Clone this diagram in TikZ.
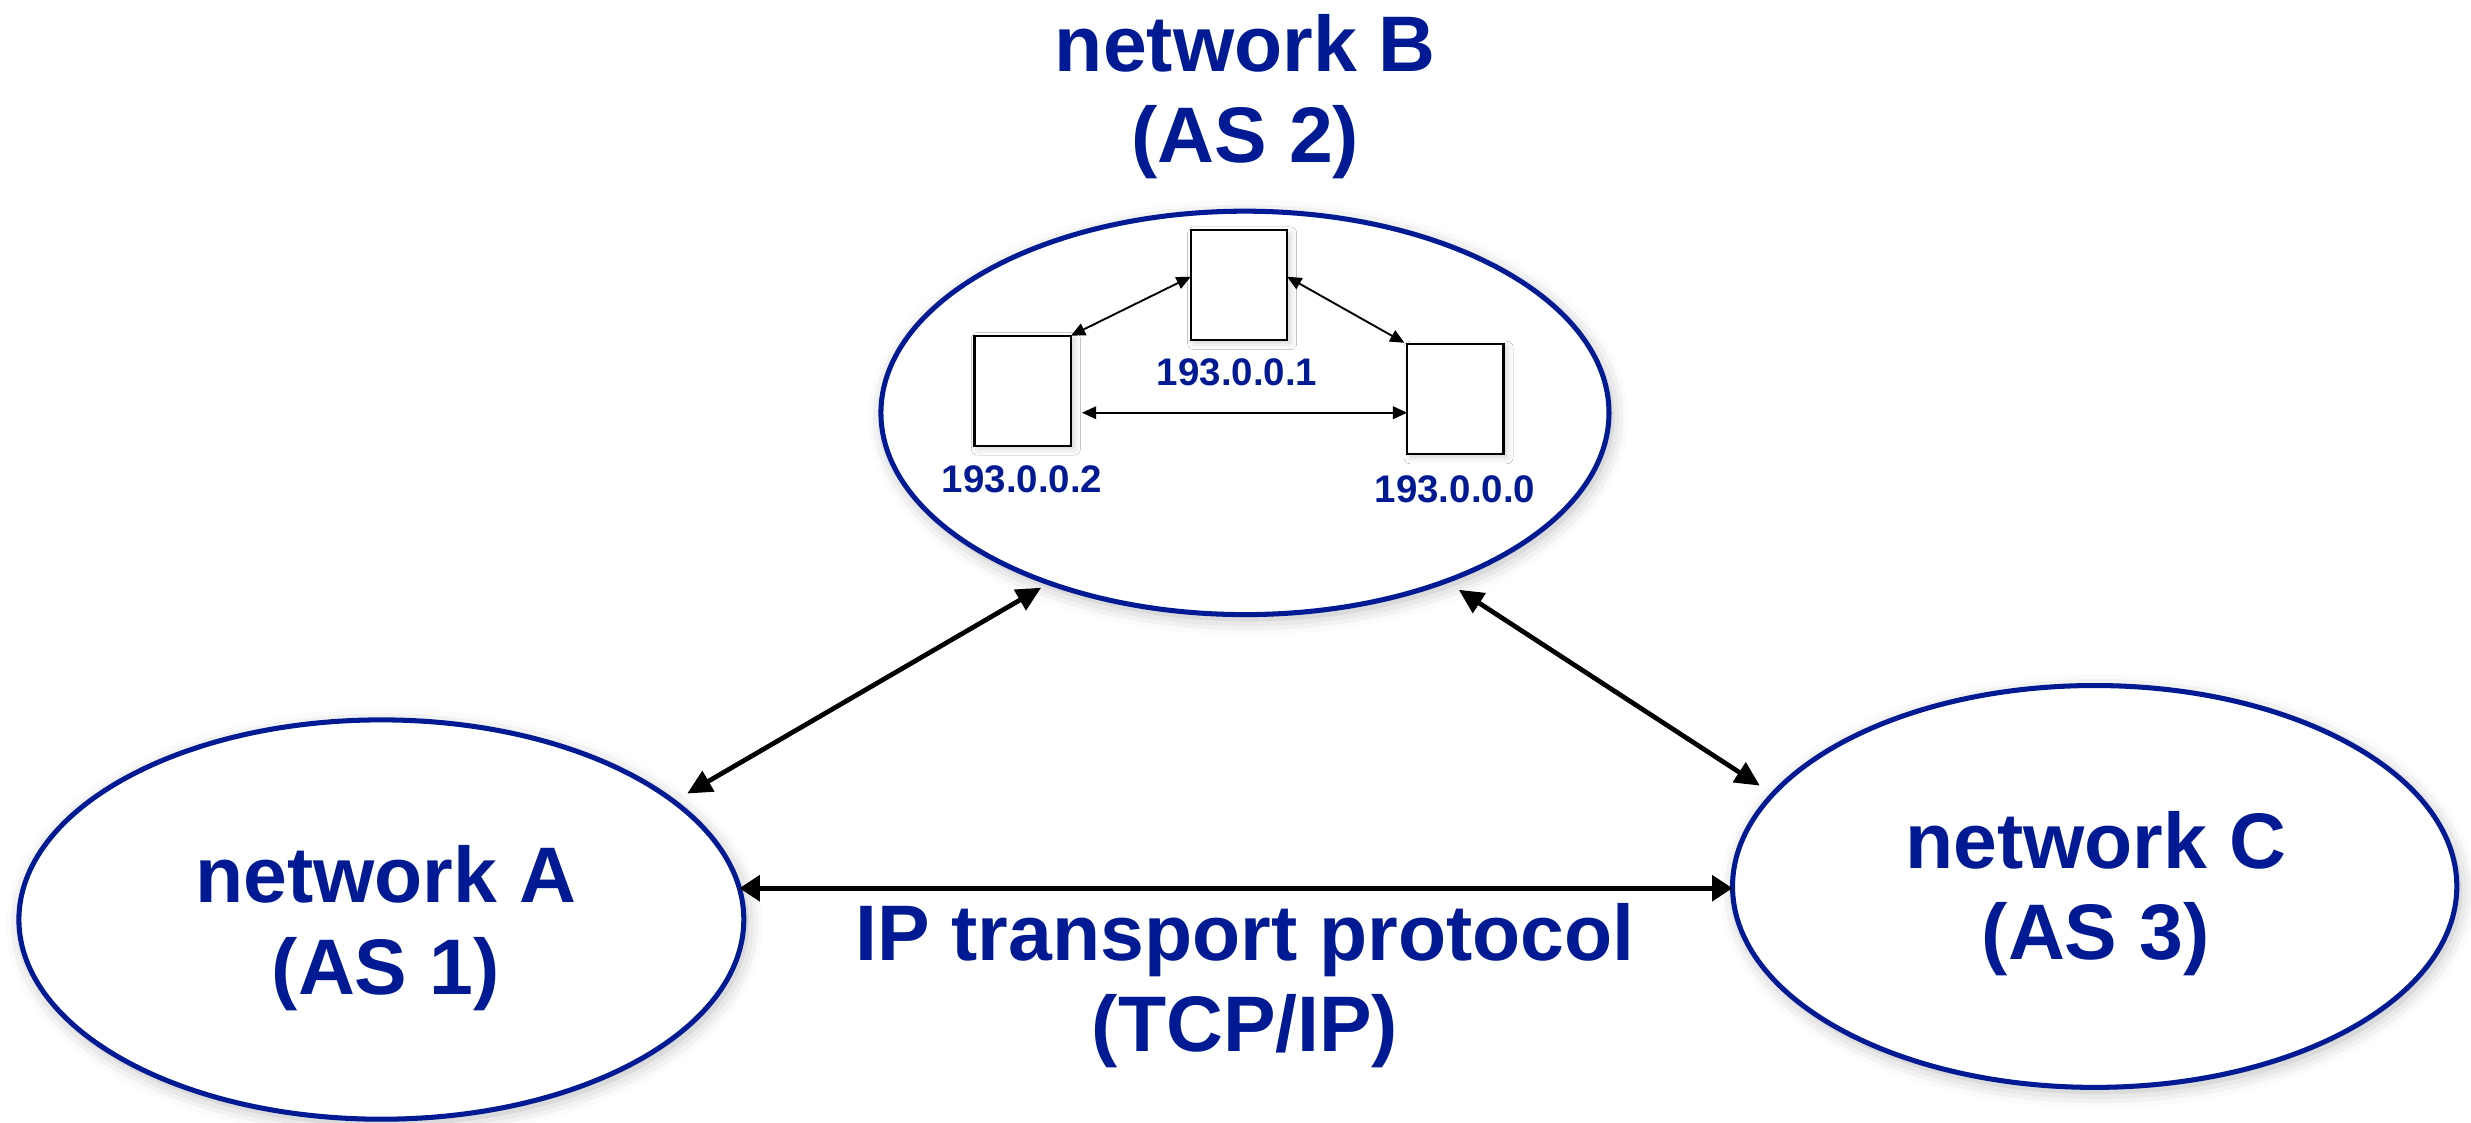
\documentclass[tikz,border=0pt]{standalone}
\usepackage{fontspec}
\setmainfont{Liberation Sans}
\usetikzlibrary{arrows.meta,shapes.geometric,shadows.blur,calc}
\definecolor{netblue}{RGB}{0,26,148}
\begin{document}
\begin{tikzpicture}[x=0.5pt,y=-0.5pt,
  softshadow/.style={blur shadow={shadow xshift=1pt, shadow yshift=-1.5pt, shadow blur radius=5pt, shadow opacity=28}},
  net/.style={ellipse, draw=netblue, line width=1.6pt, fill=white, inner sep=0pt, outer sep=0pt, softshadow},
  host/.style={rectangle, draw=black, line width=0.7pt, fill=white, minimum width=30.6pt, minimum height=34.9pt, inner sep=0pt, outer sep=0pt, blur shadow={shadow xshift=1pt, shadow yshift=-1pt, shadow blur radius=2pt, shadow opacity=18}},
  bigtext/.style={text=netblue, font=\fontsize{25}{29}\selectfont\bfseries, align=center, inner sep=0pt},
  iptext/.style={text=netblue, font=\fontsize{12.2}{14}\selectfont\bfseries, inner sep=0pt},
  link/.style={draw=black, line width=1.5pt, {Triangle[length=7.8pt,width=7.3pt]}-{Triangle[length=7.8pt,width=7.3pt]}},
  hlink/.style={draw=black, line width=1.7pt, {Triangle[length=6.5pt,width=8pt]}-{Triangle[length=6.5pt,width=8pt]}},
  smalllink/.style={draw=black, line width=0.6pt, {Triangle[length=4.5pt,width=4pt]}-{Triangle[length=4.5pt,width=4pt]}}
]
\useasboundingbox (0,0) rectangle (1568,712);

% networks
\node[net, minimum width=230pt, minimum height=126.7pt] (A) at (242,583.5) {};
\node[net, minimum width=231pt, minimum height=128pt] (B) at (790,262) {};
\node[net, minimum width=229.8pt, minimum height=127.5pt] (C) at (1329.2,562.5) {};

% hosts in network B
\node[host] (T) at (786.2,180.9) {};
\node[host] (L) at (649,247.9) {};
\node[host] (R) at (923.5,253.4) {};

% host labels
\node[iptext] (l1) at (785,236.2) {193.0.0.1};
\node[iptext] (l2) at (648.6,304) {193.0.0.2};
\node[iptext] (l0) at (923.3,310.2) {193.0.0.0};

% texts
\node[bigtext] (tB) at (790.3,61.3) {network B\\(AS 2)};
\node[bigtext] (tA) at (244.7,589) {network A\\(AS 1)};
\node[bigtext] (tC) at (1329.8,567.2) {network C\\(AS 3)};
\node[bigtext] (tP) at (790,625.5) {IP transport protocol\\(TCP/IP)};

% links inside B
\coordinate (tw) at ($(T.west)+(0,-5.3)$);
\coordinate (te) at ($(T.east)+(0,-5.3)$);
\coordinate (rw) at ($(R.west)+(0,8.5)$);
\draw[smalllink] (L.north east) -- (tw);
\draw[smalllink, shorten >=1pt] (te) -- (R.north west);
\draw[smalllink, shorten >=3.5pt] (rw) -- (rw -| L.east);

% links between networks
\draw[link, shorten <=5pt, shorten >=3pt] (A.22.6) -- (B.221.9);
\draw[link, shorten <=5pt, shorten >=5pt] (B.320.3) -- (C.164.7);
\draw[hlink] (A.5.2) -- (A.5.2 -| C.west);
\end{tikzpicture}
\end{document}
